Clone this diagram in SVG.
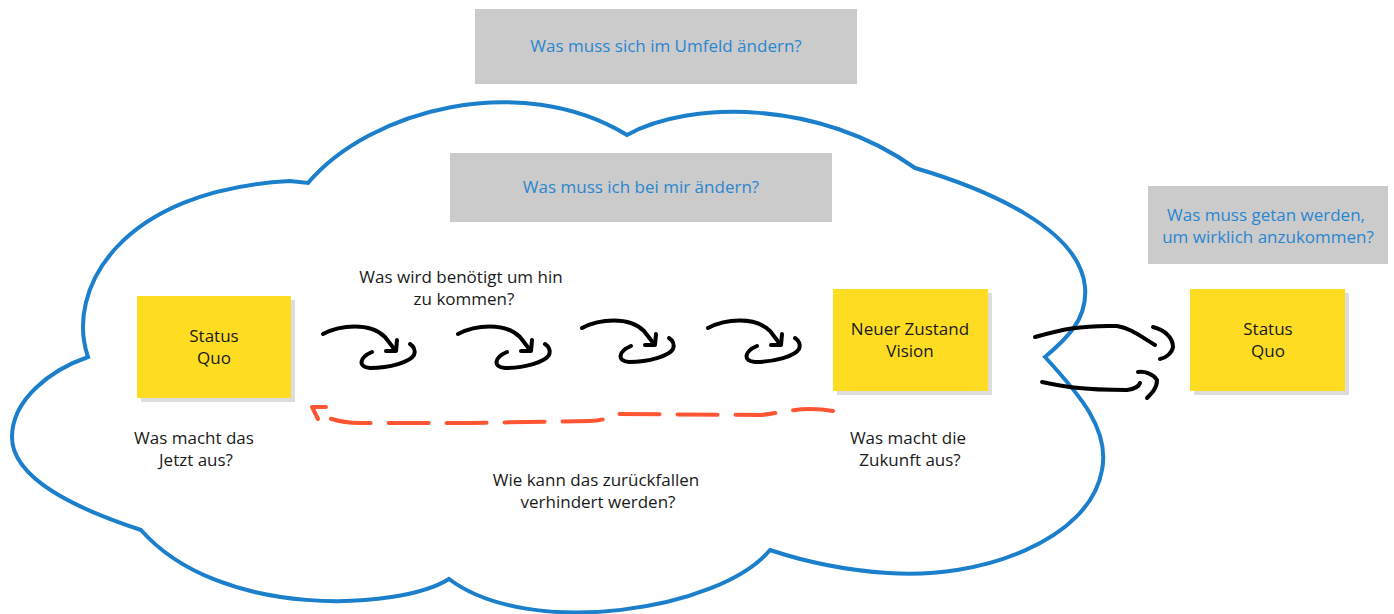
<svg xmlns="http://www.w3.org/2000/svg" width="1394" height="614" viewBox="0 0 1394 614" xmlns:xlink="http://www.w3.org/1999/xlink">
<style>
.q{fill:#CBCBCB}
.bt{font-family:"Open Sans","Noto Sans",sans-serif;font-size:17px;fill:#2A86D1;text-anchor:middle}
.t{font-family:"Open Sans","Noto Sans",sans-serif;font-size:17px;fill:#1a1a1a;text-anchor:middle}
.sticky{fill:#FDDC22}
.sh{fill:#DDDDDD}
.ink{fill:none;stroke:#000;stroke-width:4;stroke-linecap:round;stroke-linejoin:round}
.red{fill:none;stroke:#FF5533;stroke-width:4;stroke-linecap:round;stroke-linejoin:round}
</style>
<defs>
<g id="curl">
<path class="ink" d="M323,334 C340,325 370,322 385,337 L395,350"/>
<path class="ink" d="M386,351 L396,351 L397,340"/>
<path class="ink" d="M372,352 C360,357 357,367 370,368 C390,368 410,362 414,355 C416,350 413,346 410,344"/>
</g>
</defs>
<rect width="1394" height="614" fill="#fff"/>
<g id="cloud">
<path fill="none" stroke="#1B7FCC" stroke-width="4" stroke-linejoin="miter" d="M88,357 C65,290 120,190 290,181 L308,183 C370,110 520,70 627,135 C690,100 820,100 915,168 C990,190 1080,230 1085,287 C1088,320 1065,340 1045,357 C1080,395 1110,430 1102,470 C1090,540 980,580 888,573 C840,570 800,560 770,550 C720,610 530,640 449,579 C400,610 220,620 141,530 C80,510 12,480 12,437 C12,400 50,370 88,357 Z"/>
</g>
<g id="q-umfeld">
<rect class="q" x="475" y="9" width="382" height="75"/>
<text class="bt" x="666" y="52">Was muss sich im Umfeld ändern?</text>
</g>
<g id="q-ich">
<rect class="q" x="450" y="153" width="382" height="69"/>
<text class="bt" x="641" y="193">Was muss ich bei mir ändern?</text>
</g>
<g id="q-getan">
<rect class="q" x="1148" y="186" width="240" height="78"/>
<text class="bt" x="1266" y="221">Was muss getan werden,</text>
<text class="bt" x="1268" y="243">um wirklich anzukommen?</text>
</g>
<g id="status-quo-1">
<rect class="sh" x="141" y="300" width="154" height="102"/>
<rect class="sticky" x="137" y="296" width="154" height="102"/>
<text class="t" x="214" y="342">Status</text>
<text class="t" x="214" y="364">Quo</text>
</g>
<g id="neuer-zustand">
<rect class="sh" x="837" y="293" width="155" height="102"/>
<rect class="sticky" x="833" y="289" width="155" height="102"/>
<text class="t" x="910" y="335">Neuer Zustand</text>
<text class="t" x="910" y="357">Vision</text>
</g>
<g id="status-quo-2">
<rect class="sh" x="1194" y="293" width="155" height="102"/>
<rect class="sticky" x="1190" y="289" width="155" height="102"/>
<text class="t" x="1268" y="335">Status</text>
<text class="t" x="1268" y="357">Quo</text>
</g>
<g id="labels">
<text class="t" x="461" y="283">Was wird benötigt um hin</text>
<text class="t" x="464" y="305">zu kommen?</text>
<text class="t" x="194" y="444">Was macht das</text>
<text class="t" x="196" y="466">Jetzt aus?</text>
<text class="t" x="596" y="486">Wie kann das zurückfallen</text>
<text class="t" x="598" y="508">verhindert werden?</text>
<text class="t" x="908" y="444">Was macht die</text>
<text class="t" x="910" y="466">Zukunft aus?</text>
</g>
<g id="connectors">
<use xlink:href="#curl"/>
<use xlink:href="#curl" transform="translate(135,0)"/>
<use xlink:href="#curl" transform="translate(259,-6)"/>
<use xlink:href="#curl" transform="translate(385,-6)"/>
<path class="red" stroke-dasharray="40 18" d="M833,411 C800,405 780,414 760,415 L620,414 C610,414 608,421 590,421 L470,423 L360,423 C340,423 325,418 315,411"/>
<path class="red" d="M326,407 L312,407 L318,419"/>
<path class="ink" d="M1035,337 C1060,330 1080,325 1117,326 C1130,328 1140,336 1155,345"/>
<path class="ink" d="M1153,327 C1165,330 1173,338 1173,347 C1172,353 1166,358 1160,359"/>
<path class="ink" d="M1042,382 C1060,386 1080,390 1127,390 C1135,389 1139,386 1140,383"/>
<path class="ink" d="M1138,372 C1145,371 1153,374 1157,380 C1157,388 1152,393 1147,398"/>
</g>
</svg>
